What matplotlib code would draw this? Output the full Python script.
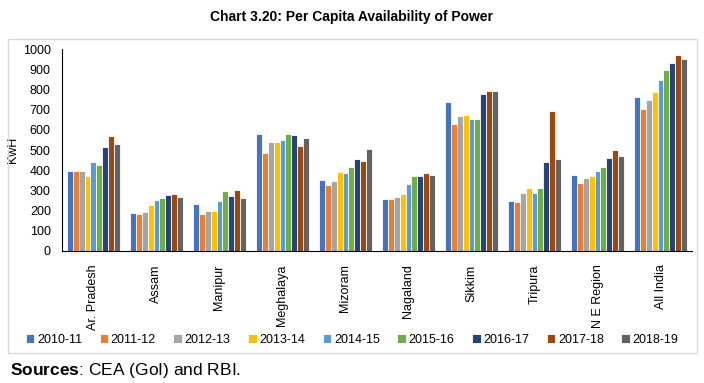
import numpy as np
import matplotlib
matplotlib.use("Agg")
import matplotlib.pyplot as plt
from matplotlib.patches import Rectangle

plt.rcParams['font.family'] = ['Liberation Sans', 'DejaVu Sans']
plt.rcParams['mathtext.fontset'] = 'custom'
plt.rcParams['mathtext.rm'] = 'Liberation Sans'
plt.rcParams['mathtext.bf'] = 'Liberation Sans:bold'

regions = ['Ar. Pradesh', 'Assam', 'Manipur', 'Meghalaya', 'Mizoram',
           'Nagaland', 'Sikkim', 'Tripura', 'N E Region', 'All India']
years = ['2010-11', '2011-12', '2012-13', '2013-14', '2014-15',
         '2015-16', '2016-17', '2017-18', '2018-19']

# per capita availability (KwH), one list per region, ordered by year
ar_pradesh = [394, 396, 397, 372, 439, 425, 513, 568, 530]
assam = [189, 182, 192, 225, 252, 263, 276, 281, 267]
manipur = [232, 182, 199, 199, 247, 296, 270, 301, 263]
meghalaya = [579, 487, 540, 538, 550, 578, 575, 520, 558]
mizoram = [351, 324, 344, 391, 386, 414, 454, 444, 503]
nagaland = [258, 257, 268, 280, 331, 371, 371, 384, 376]
sikkim = [740, 629, 669, 675, 654, 654, 776, 795, 795]
tripura = [248, 243, 285, 311, 285, 311, 439, 692, 457]
ne_region = [374, 338, 363, 373, 394, 414, 460, 500, 469]
all_india = [762, 705, 747, 788, 848, 897, 934, 974, 950]

colors = ['#4472C4', '#ED7D31', '#A5A5A5', '#FFC000', '#5B9BD5',
          '#70AD47', '#264478', '#9E480E', '#636363']

values = np.array([ar_pradesh, assam, manipur, meghalaya, mizoram,
                   nagaland, sikkim, tripura, ne_region, all_india])

fig = plt.figure(figsize=(7.04, 3.83), dpi=100)
ax = fig.add_axes([0.088, 0.3454, 0.895, 0.5259])

x = np.arange(len(regions))
width = 0.094
for i, yr in enumerate(years):
    offs = (i - (len(years) - 1) / 2) * width
    ax.bar(x + offs, values[:, i], width, color=colors[i], label=yr,
           edgecolor='white', linewidth=0.6)

ax.set_xlim(-0.5, len(regions) - 0.5)
ax.set_ylim(0, 1000)
ax.set_yticks(np.arange(0, 1001, 100))
ax.tick_params(axis='y', length=0, labelsize=9, pad=8)
ax.tick_params(axis='x', length=0, labelsize=9, pad=10)
ax.set_xticks(x)
ax.set_xticklabels(regions, rotation=90, va='top')
ax.set_ylabel('KwH', fontsize=9)
ax.yaxis.set_label_coords(-0.068, 0.5)
for s in ['top', 'right']:
    ax.spines[s].set_visible(False)
ax.spines['left'].set_color('black')
ax.spines['bottom'].set_color('black')

fig.legend(loc='center', bbox_to_anchor=(0.5, 0.113), ncol=9, frameon=False,
           fontsize=9, handlelength=0.7, handleheight=0.7, handletextpad=0.2,
           columnspacing=1.4)

fig.patches.append(Rectangle((8 / 704, 1 - 353 / 383), 689 / 704, 314 / 383,
                             transform=fig.transFigure, fill=False,
                             edgecolor='#D9D9D9', linewidth=1))

fig.text(0.5, 1 - 17 / 383, 'Chart 3.20: Per Capita Availability of Power',
         ha='center', va='center', fontsize=10, fontweight='bold')
fig.text(10 / 704, 1 - 370 / 383, r'$\mathbf{Sources}$: CEA (GoI) and RBI.',
         ha='left', va='center', fontsize=12.5)

fig.savefig('out.png', dpi=100)
